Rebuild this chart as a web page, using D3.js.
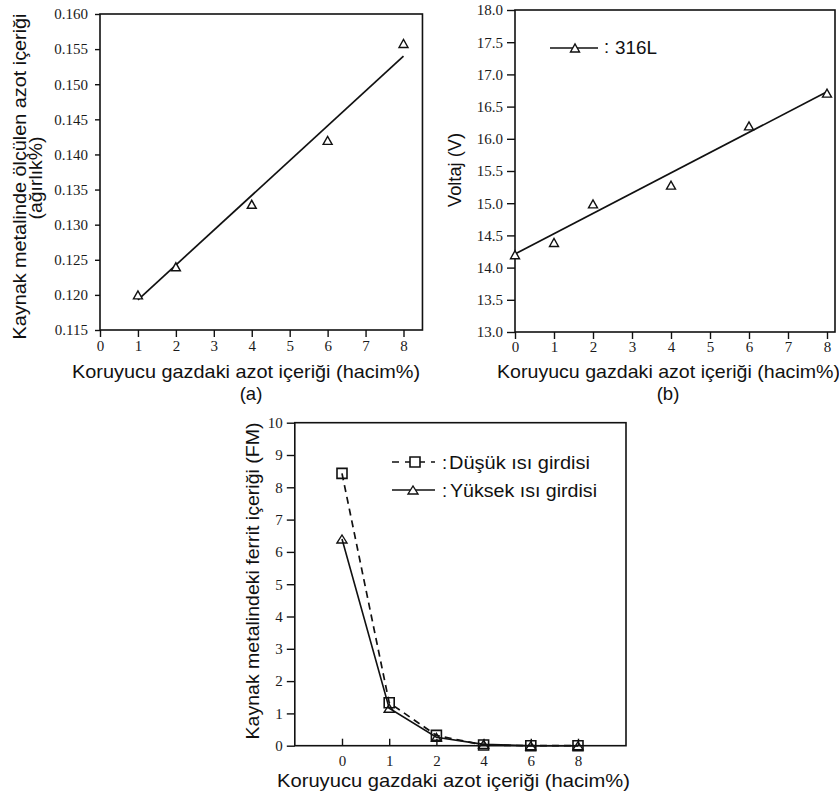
<!DOCTYPE html>
<html><head><meta charset="utf-8">
<script src="https://cdn.jsdelivr.net/npm/d3@7"></script>
<style>
html,body{margin:0;padding:0;background:#fff;}
svg{display:block;}
.tick text{font-family:"Liberation Serif","Times New Roman",serif;font-size:15px;fill:#1a1a1a;}
.ttl{font-family:"Liberation Sans",Arial,sans-serif;font-size:18.5px;fill:#111;}
</style></head>
<body>
<script>
// ---- data ----
const xTicksA = [0,1,2,3,4,5,6,7,8];
const yTicksA = [0.115,0.120,0.125,0.130,0.135,0.140,0.145,0.150,0.155,0.160];
const xA = [1,2,4,6,8];
const yA = [0.1200,0.1240,0.1329,0.1420,0.1558];
const fitAx = [1,8];
const fitAy = [0.1193,0.1540];

const xTicksB = [0,1,2,3,4,5,6,7,8];
const yTicksB = [13.0,13.5,14.0,14.5,15.0,15.5,16.0,16.5,17.0,17.5,18.0];
const xB = [0,1,2,4,6,8];
const yB = [14.20,14.39,14.99,15.28,16.20,16.71];
const fitBx = [0,8];
const fitBy = [14.21,16.73];
const legendB = ["316L"];

const catsC = ["0","1","2","4","6","8"];
const yTicksC = [0,1,2,3,4,5,6,7,8,9,10];
const lowC  = [8.43,1.33,0.32,0.02,0,0];
const highC = [6.40,1.16,0.26,0.04,0,0];
const legendC = ["Düşük ısı girdisi","Yüksek ısı girdisi"];

const xTitle = "Koruyucu gazdaki azot içeriği (hacim%)";

// ---- drawing ----
const W = 839, H = 798;
const svg = d3.select("body").append("svg").attr("width", W).attr("height", H);
svg.append("rect").attr("width", W).attr("height", H).attr("fill", "#fff");
const INK = "#111";

function tri(cx, cy, w, h){
  return `M${cx-w/2},${cy+h/2}L${cx},${cy-h/2}L${cx+w/2},${cy+h/2}Z`;
}
function sq(cx, cy, s){
  return `M${cx-s/2},${cy-s/2}h${s}v${s}h${-s}Z`;
}
function styleAxis(g){
  g.select(".domain").remove();
  g.selectAll(".tick line").attr("stroke", INK).attr("stroke-width", 1.4);
}

// ===== Panel (a) =====
{
  const x = d3.scaleLinear().domain([0,8]).range([100,403.5]);
  const y = d3.scaleLinear().domain([0.115,0.160]).range([330,14]);
  const right = x(8.5);
  const g = svg.append("g");
  g.append("g").attr("transform","translate(100,0)")
    .call(d3.axisLeft(y).tickValues(yTicksA).tickFormat(d3.format(".3f")).tickSize(5).tickPadding(7))
    .call(styleAxis);
  g.append("g").attr("transform","translate(0,330)")
    .call(d3.axisBottom(x).tickValues(xTicksA).tickFormat(d3.format("d")).tickSize(7).tickPadding(3))
    .call(styleAxis);
  g.append("rect").attr("x",100).attr("y",y(0.160)).attr("width",right-100).attr("height",330-y(0.160))
    .attr("fill","none").attr("stroke",INK).attr("stroke-width",1.6);
  g.append("path").datum(fitAx.map((d,i)=>[d,fitAy[i]]))
    .attr("d", d3.line().x(d=>x(d[0])).y(d=>y(d[1])))
    .attr("fill","none").attr("stroke",INK).attr("stroke-width",1.7);
  g.selectAll(".m").data(xA.map((d,i)=>[d,yA[i]])).join("path")
    .attr("d", d=>tri(x(d[0]), y(d[1]), 9, 8))
    .attr("fill","#fff").attr("stroke",INK).attr("stroke-width",1.4);
  g.append("text").attr("class","ttl").attr("transform","translate(26,176.5) rotate(-90)")
    .attr("text-anchor","middle").attr("textLength",326).attr("lengthAdjust","spacingAndGlyphs")
    .text("Kaynak metalinde ölçülen azot içeriği");
  g.append("text").attr("class","ttl").attr("transform","translate(42,178) rotate(-90)")
    .attr("text-anchor","middle").attr("textLength",83).attr("lengthAdjust","spacingAndGlyphs")
    .text("(ağırlık%)");
  g.append("text").attr("class","ttl").attr("x",72).attr("y",378)
    .attr("textLength",348).attr("lengthAdjust","spacingAndGlyphs").text(xTitle);
  g.append("text").attr("class","ttl").attr("x",251).attr("y",400).attr("text-anchor","middle").text("(a)");
}

// ===== Panel (b) =====
{
  const x = d3.scaleLinear().domain([0,8]).range([515,827]);
  const y = d3.scaleLinear().domain([13,18]).range([332,10]);
  const right = 835;
  const g = svg.append("g");
  g.append("g").attr("transform","translate(515,0)")
    .call(d3.axisLeft(y).tickValues(yTicksB).tickFormat(d3.format(".1f")).tickSize(8).tickPadding(4))
    .call(styleAxis);
  g.append("g").attr("transform","translate(0,332)")
    .call(d3.axisBottom(x).tickValues(xTicksB).tickFormat(d3.format("d")).tickSize(7).tickPadding(2))
    .call(styleAxis);
  g.append("rect").attr("x",515).attr("y",10).attr("width",right-515).attr("height",322)
    .attr("fill","none").attr("stroke",INK).attr("stroke-width",1.6);
  g.append("path").datum(fitBx.map((d,i)=>[d,fitBy[i]]))
    .attr("d", d3.line().x(d=>x(d[0])).y(d=>y(d[1])))
    .attr("fill","none").attr("stroke",INK).attr("stroke-width",1.7);
  g.selectAll(".m").data(xB.map((d,i)=>[d,yB[i]])).join("path")
    .attr("d", d=>tri(x(d[0]), y(d[1]), 9, 8))
    .attr("fill","#fff").attr("stroke",INK).attr("stroke-width",1.4);
  // legend
  g.append("line").attr("x1",550).attr("x2",598).attr("y1",48).attr("y2",48).attr("stroke",INK).attr("stroke-width",1.6);
  g.append("path").attr("d",tri(575,48,9,8)).attr("fill","#fff").attr("stroke",INK).attr("stroke-width",1.4);
  g.append("text").attr("class","ttl").attr("x",604).attr("y",53).attr("fill","#888").text(":");
  g.append("text").attr("class","ttl").attr("x",615).attr("y",54)
    .attr("textLength",42).attr("lengthAdjust","spacingAndGlyphs").text(legendB[0]);
  g.append("text").attr("class","ttl").attr("transform","translate(461,170) rotate(-90)")
    .attr("text-anchor","middle").attr("textLength",74).attr("lengthAdjust","spacingAndGlyphs")
    .text("Voltaj (V)");
  g.append("text").attr("class","ttl").attr("x",497).attr("y",378)
    .attr("textLength",343).attr("lengthAdjust","spacingAndGlyphs").text(xTitle);
  g.append("text").attr("class","ttl").attr("x",668).attr("y",400).attr("text-anchor","middle").text("(b)");
}

// ===== Panel (c) =====
{
  const x = d3.scalePoint().domain(catsC).range([342,578]);
  const step = x.step();
  const left = x(catsC[0]) - step, right = 626;
  const y = d3.scaleLinear().domain([0,10]).range([745.7,422.7]);
  const g = svg.append("g");
  g.append("g").attr("transform",`translate(${left},0)`)
    .call(d3.axisLeft(y).tickValues(yTicksC).tickFormat(d3.format("d")).tickSize(8).tickPadding(4))
    .call(styleAxis);
  g.append("g").attr("transform",`translate(0,${y(0)})`)
    .call(d3.axisBottom(x).tickSize(-7).tickPadding(10))
    .call(styleAxis);
  g.append("rect").attr("x",left).attr("y",y(10)).attr("width",right-left).attr("height",y(0)-y(10))
    .attr("fill","none").attr("stroke",INK).attr("stroke-width",1.6);
  const line = d3.line().x((d,i)=>x(catsC[i])).y(d=>y(d));
  g.append("path").datum(lowC).attr("d",line).attr("fill","none").attr("stroke",INK)
    .attr("stroke-width",1.7).attr("stroke-dasharray","7,5");
  g.append("path").datum(highC).attr("d",line).attr("fill","none").attr("stroke",INK).attr("stroke-width",1.6);
  g.selectAll(".sq").data(lowC).join("path")
    .attr("d",(d,i)=>sq(x(catsC[i]), y(d), 10))
    .attr("fill","none").attr("stroke",INK).attr("stroke-width",1.6);
  g.selectAll(".tr").data(highC).join("path")
    .attr("d",(d,i)=>tri(x(catsC[i]), y(d), 10, 8))
    .attr("fill","none").attr("stroke",INK).attr("stroke-width",1.4);
  // legend
  g.append("line").attr("x1",392).attr("x2",435).attr("y1",462).attr("y2",462).attr("stroke",INK)
    .attr("stroke-width",1.6).attr("stroke-dasharray","7,6");
  g.append("path").attr("d",sq(415,462,10)).attr("fill","#fff").attr("stroke",INK).attr("stroke-width",1.6);
  g.append("line").attr("x1",392).attr("x2",435).attr("y1",490).attr("y2",490).attr("stroke",INK).attr("stroke-width",1.6);
  g.append("path").attr("d",tri(413,490,10,8)).attr("fill","#fff").attr("stroke",INK).attr("stroke-width",1.4);
  g.append("text").attr("class","ttl").attr("x",442).attr("y",469).attr("fill","#777").text(":");
  g.append("text").attr("class","ttl").attr("x",442).attr("y",497).attr("fill","#777").text(":");
  g.append("text").attr("class","ttl").attr("x",449).attr("y",469)
    .attr("textLength",141).attr("lengthAdjust","spacingAndGlyphs").text(legendC[0]);
  g.append("text").attr("class","ttl").attr("x",450).attr("y",497)
    .attr("textLength",147).attr("lengthAdjust","spacingAndGlyphs").text(legendC[1]);
  g.append("text").attr("class","ttl").attr("transform","translate(259,581) rotate(-90)")
    .attr("text-anchor","middle").attr("textLength",317).attr("lengthAdjust","spacingAndGlyphs")
    .text("Kaynak metalindeki ferrit içeriği (FM)");
  g.append("text").attr("class","ttl").attr("x",277).attr("y",787)
    .attr("textLength",353).attr("lengthAdjust","spacingAndGlyphs").text(xTitle);
}
</script>
</body></html>
